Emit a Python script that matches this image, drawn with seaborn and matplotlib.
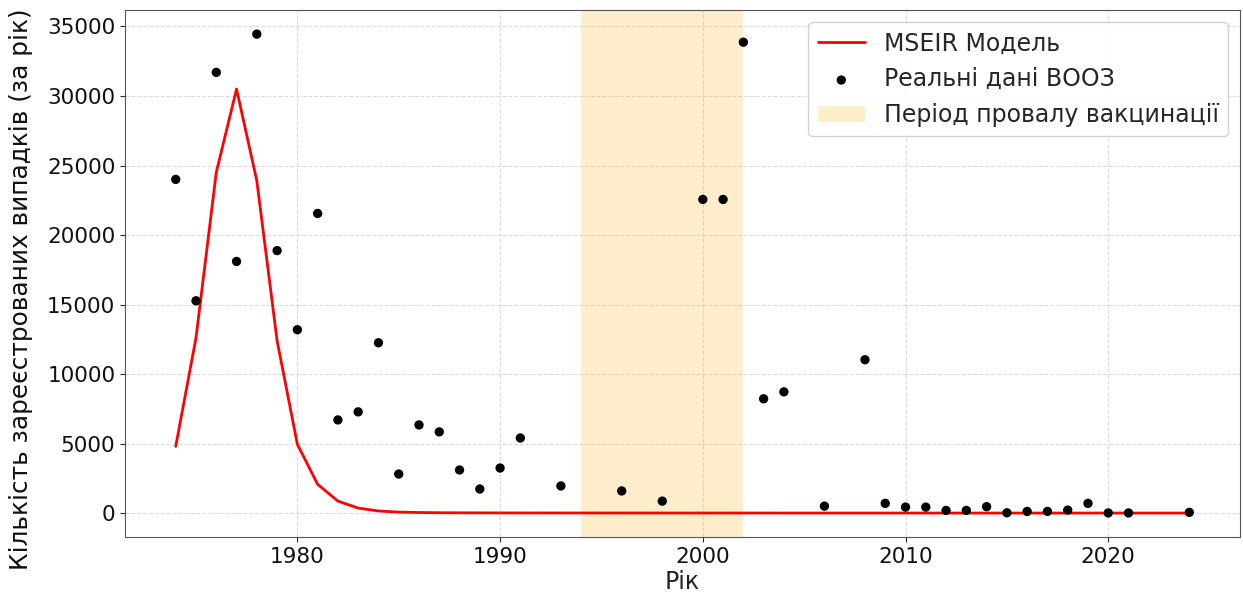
import numpy as np
import pandas as pd
import matplotlib
matplotlib.use("Agg")
import matplotlib.pyplot as plt
import seaborn as sns

# ---- data ----
model_years = list(range(1974, 2025))
model_cases = [4800, 12600, 24500, 30500, 23900, 12400, 4950, 2070, 860, 360,
               150, 70, 40, 25, 20, 15, 12, 10, 9, 8,
               7, 6, 5, 5, 4, 4, 3, 3, 3, 3,
               2, 2, 2, 2, 2, 2, 2, 1, 1, 1,
               1, 1, 1, 1, 1, 1, 1, 1, 1, 1, 1]

who_years = [1974, 1975, 1976, 1977, 1978, 1979, 1980, 1981, 1982, 1983,
             1984, 1985, 1986, 1987, 1988, 1989, 1990, 1991, 1993, 1996,
             1998, 2000, 2001, 2002, 2003, 2004, 2006, 2008, 2009, 2010,
             2011, 2012, 2013, 2014, 2015, 2016, 2017, 2018, 2019, 2020,
             2021, 2024]
who_cases = [24000, 15270, 31700, 18100, 34450, 18880, 13190, 21550, 6700, 7280,
             12250, 2810, 6340, 5840, 3100, 1730, 3240, 5400, 1950, 1590,
             860, 22560, 22560, 33870, 8220, 8720, 500, 11030, 700, 430,
             430, 190, 190, 460, 20, 120, 120, 215, 700, 10,
             10, 50]

failure_period = [1994, 2002]

labels = {
    "model": "MSEIR Модель",
    "data": "Реальні дані ВООЗ",
    "period": "Період провалу вакцинації",
    "xlabel": "Рік",
    "ylabel": "Кількість зареєстрованих випадків (за рік)",
}

# ---- plot ----
sns.set_style("ticks")
plt.rcParams['font.family'] = ['DejaVu Sans']

fig = plt.figure(figsize=(12.43, 5.99), dpi=100)
ax = fig.add_axes([0.1006, 0.1035, 0.8970, 0.8795])

model_df = pd.DataFrame({"year": model_years, "cases": model_cases})
who_df = pd.DataFrame({"year": who_years, "cases": who_cases})

sns.lineplot(data=model_df, x="year", y="cases", color="red", linewidth=2,
             label=labels["model"], ax=ax)
sns.scatterplot(data=who_df, x="year", y="cases", color="black", s=45,
                edgecolor="none", label=labels["data"], ax=ax, zorder=3)
ax.axvspan(failure_period[0], failure_period[1], color="orange", alpha=0.2,
           linewidth=0, label=labels["period"])

ax.grid(True, linestyle="--", alpha=0.7)
ax.set_xlabel(labels["xlabel"], fontsize=17, color="#222222", labelpad=2)
ax.set_ylabel(labels["ylabel"], fontsize=17.8, color="#111111")
ax.yaxis.set_label_coords(-0.083, 0.47)
ax.tick_params(labelsize=15.5, labelcolor="#111111")
for s in ax.spines.values():
    s.set_color("#555555")
ax.legend(loc="upper right", fontsize=17, framealpha=0.9)

fig.savefig("out.png", dpi=100)
